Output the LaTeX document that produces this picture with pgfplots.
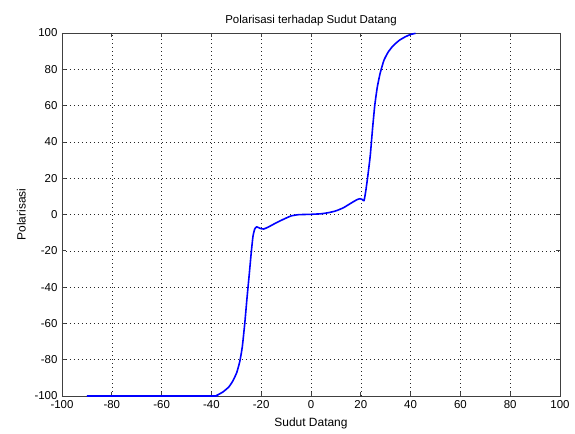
\documentclass[border=0pt]{standalone}
\usepackage{pgfplots}
\pgfplotsset{compat=1.18}
\usepackage{fontspec}
\setmainfont{Liberation Sans}
\begin{document}
\begin{tikzpicture}[x=1bp,y=1bp]
\begin{axis}[
  name=ax,
  scale only axis,
  width=498bp, height=363bp,
  xmin=-100, xmax=100, ymin=-100, ymax=100,
  clip=false,
  xtick={-100,-80,...,100}, ytick={-100,-80,...,100},
  grid=major,
  major grid style={black!85, line width=0.6pt, dash pattern=on 0.8bp off 3.2bp},
  axis line style={black!75, line width=0.7pt},
  tick style={black!75, line width=0.7pt},
  tick align=inside,
  major tick length=4bp,
  xtick pos=both, ytick pos=both,
  /pgf/number format/assume math mode=true,
  ticklabel style={font=\fontsize{11.5}{13}\selectfont},
  xticklabel style={yshift=-1bp},
  yticklabel style={xshift=-1bp},
  title={Polarisasi terhadap Sudut Datang},
  title style={font=\fontsize{11.5}{13}\selectfont, yshift=-2bp},
  xlabel={Sudut Datang},
  ylabel={Polarisasi},
  label style={font=\fontsize{12}{14}\selectfont},
  xlabel style={yshift=-2bp},
  ylabel style={yshift=2bp},
]
\addplot[blue, line width=1.6pt, line join=round, smooth, tension=0.3] coordinates {
(-90,-100) (-40,-100) (-38,-99.7) (-35.4,-97.8) (-33,-95) (-31.3,-91.5)
(-29.8,-87) (-28.6,-81) (-27.6,-73) (-26.6,-60) (-25.7,-46) (-24.8,-33)
(-24,-21) (-23.3,-12) (-22.6,-8) (-21.8,-6.8) (-20.5,-7.6) (-19,-8)
(-17,-6.8) (-14,-4.6) (-11,-2.6) (-8,-0.8) (-5,-0.1) (0,0.1) (4,0.4) (7,1)
(10,2) (13,3.7) (16,6.2) (18.5,8.2) (19.7,8.7) (20.6,8.3) (21.3,7.6)
(22,13) (22.8,21) (23.8,32.5) (24.7,47) (25.6,60) (26.6,70) (27.8,78)
(29.3,85) (31,89.5) (33,93) (35.5,96) (38,98) (40,99.2) (42,99.8)
};
\end{axis}
\path (ax.south west) ++(-62bp,-38bp);
\path (ax.north east) ++(15bp,33bp);
\end{tikzpicture}
\end{document}
